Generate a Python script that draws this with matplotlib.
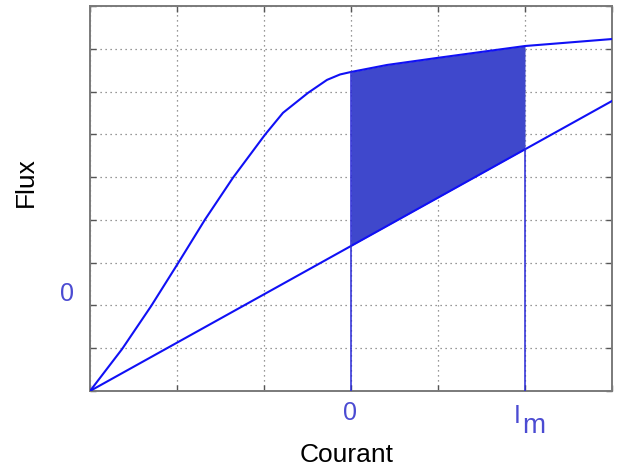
import numpy as np
import matplotlib.pyplot as plt

plt.rcParams['font.family'] = ['Liberation Sans', 'DejaVu Sans']

# magnetisation curve (current, flux) in grid units
courant_sat = [0.0, 0.184, 0.368, 0.701, 1.011, 1.322, 1.644, 2.011, 2.218, 2.506,
               2.724, 2.874, 3.0, 3.414, 3.989, 5.0, 6.0]
flux_sat = [0.0, 0.490, 0.979, 1.981, 2.984, 4.009, 4.988, 5.991, 6.503, 6.970,
            7.273, 7.40, 7.458, 7.622, 7.786, 8.065, 8.228]

# linear (unsaturated) characteristic
courant_lin = [0.0, 6.0]
flux_lin = [0.0, 6.78]

# operating range
i0 = 3.0
im = 5.0
flux0_label = 2.26

curve_blue = '#1010f5'
fill_blue = '#3f48cc'
label_blue = '#4b4bd2'

fig = plt.figure(figsize=(6.17, 4.70), dpi=100)
ax = fig.add_axes([0.1459, 0.1681, 0.8460, 0.8191])

ax.set_xlim(0, 6)
ax.set_ylim(0, 9)

# shaded region between the two characteristics
xs = np.array([c for c in courant_sat if i0 <= c <= im])
upper = np.interp(xs, courant_sat, flux_sat)
lower = np.interp(xs, courant_lin, flux_lin)
ax.fill_between(xs, lower, upper, color=fill_blue, lw=0, zorder=2)

ax.plot(courant_sat, flux_sat, color=curve_blue, lw=1.5, zorder=3,
        solid_joinstyle='round')
ax.plot(courant_lin, flux_lin, color=curve_blue, lw=1.5, zorder=3)

# vertical markers at 0 and Im
ax.plot([i0, i0], [0, np.interp(i0, courant_sat, flux_sat)], color='#2828d8', lw=1.1, zorder=3)
ax.plot([im, im], [0, np.interp(im, courant_lin, flux_lin)], color='#2828d8', lw=1.1, zorder=3)

ax.set_xticks(range(7))
ax.set_yticks(range(10))
ax.set_xticklabels([])
ax.set_yticklabels([])
ax.tick_params(direction='in', length=4, width=1, color='#555555',
               top=True, right=True)
ax.grid(True, color='#777777', linestyle=(0, (1, 3)), linewidth=0.9)
ax.set_axisbelow(True)
for sp in ax.spines.values():
    sp.set_color('#7a7a7a')
    sp.set_linewidth(1.4)

tr = fig.transFigure
ax.text(350 / 617, 1 - 413 / 470, '0', transform=tr, color=label_blue, fontsize=18,
        ha='center', va='center')
ax.text(517 / 617, 1 - 416 / 470, 'I', transform=tr, color=label_blue, fontsize=18,
        ha='center', va='center')
ax.text(534 / 617, 1 - 426 / 470, 'm', transform=tr, color=label_blue, fontsize=20,
        ha='center', va='center')
ax.text(-0.27, flux0_label, '0', color=label_blue, fontsize=18,
        ha='center', va='center', clip_on=False)

fig.text(347 / 617, 1 - 455 / 470, 'Courant', fontsize=19, ha='center', va='center')
fig.text(26 / 617, 1 - 182 / 470, 'Flux', fontsize=19, ha='center', va='center', rotation=90)

fig.savefig('out.png', dpi=100)
